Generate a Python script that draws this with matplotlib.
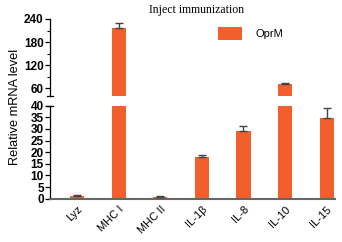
import matplotlib
matplotlib.use("Agg")
import matplotlib.pyplot as plt
import numpy as np
from matplotlib.ticker import MultipleLocator, FixedLocator

categories = ["Lyz", "MHC I", "MHC II", "IL-1β", "IL-8", "IL-10", "IL-15"]
values = [1.2, 216, 0.8, 17.8, 29.2, 70, 34.6]
errors = [0.3, 13, 0.2, 0.9, 1.9, 4, 4.5]
series_name = "OprM"
title = "Inject immunization"
ylabel = "Relative mRNA level"

color = "#F25F2C"
W, H = 342, 242
fig = plt.figure(figsize=(W/100, H/100), dpi=100)
plt.rcParams['font.family'] = ['Liberation Sans', 'DejaVu Sans']

left = 50/W
width = (335-50)/W
ax_top = fig.add_axes([left, (H-95.7)/H, width, (95.7-19)/H])
ax_bot = fig.add_axes([left, (H-198.7)/H, width, (198.7-105.7)/H])

x = np.arange(len(categories))
vals = np.array(values)
errs = np.array(errors)
BREAK = 40
for ax, mask in ((ax_top, vals > BREAK), (ax_bot, vals <= BREAK)):
    ax.bar(x, vals, width=0.34, color=color, label=series_name, zorder=2)
    ax.errorbar(x[mask], vals[mask], yerr=np.vstack([np.zeros(mask.sum()), errs[mask]]),
                fmt='none', ecolor='#444444', elinewidth=1.0,
                capsize=3.2, capthick=1.0, zorder=3)
    ax.set_xlim(-0.65, 6.2)
    for s in ('top', 'right'):
        ax.spines[s].set_visible(False)
    ax.spines['left'].set_linewidth(0.9)
    ax.tick_params(axis='y', direction='out', length=3.5, width=0.9, labelsize=8.5, pad=1)

ax_top.set_ylim(BREAK, 240)
ax_top.yaxis.set_major_locator(FixedLocator([60, 120, 180, 240]))
ax_top.yaxis.set_minor_locator(FixedLocator([90, 150, 210]))
ax_top.tick_params(axis='y', which='minor', direction='out', length=2, width=0.8)
ax_top.spines['bottom'].set_visible(False)
ax_top.set_xticks([])

ax_bot.set_ylim(0, BREAK)
ax_bot.yaxis.set_major_locator(MultipleLocator(5))
ax_bot.spines['bottom'].set_color('#666666')
ax_bot.spines['bottom'].set_linewidth(1.5)
ax_bot.set_xticks(x)
ax_bot.set_xticklabels(categories, rotation=45, ha='right', rotation_mode='anchor', fontsize=8)
ax_bot.tick_params(axis='x', length=0, pad=4)

for ax in (ax_top, ax_bot):
    for lab in ax.get_yticklabels():
        lab.set_fontweight('bold')

# break caps at spine ends
ax_top.plot([-0.012, 0.012], [0, 0], transform=ax_top.transAxes, color='black', lw=0.9, clip_on=False)
ax_bot.plot([-0.012, 0.012], [1, 1], transform=ax_bot.transAxes, color='black', lw=0.9, clip_on=False)

fig.text(15/W, 1-106.5/H, ylabel, rotation=90, ha='center', va='center', fontsize=9.2)
fig.text(197/W, 1-10/H, title, ha='center', va='center', fontsize=8.5, family=['Liberation Serif'])

handles, labels = ax_top.get_legend_handles_labels()
fig.legend(handles[:1], labels[:1], loc='upper left', bbox_to_anchor=(218/W, 1-27/H),
           frameon=False, fontsize=8, handlelength=2.2, handleheight=1.4,
           handletextpad=1.2, borderpad=0, borderaxespad=0)

fig.savefig("out.png", dpi=100)
